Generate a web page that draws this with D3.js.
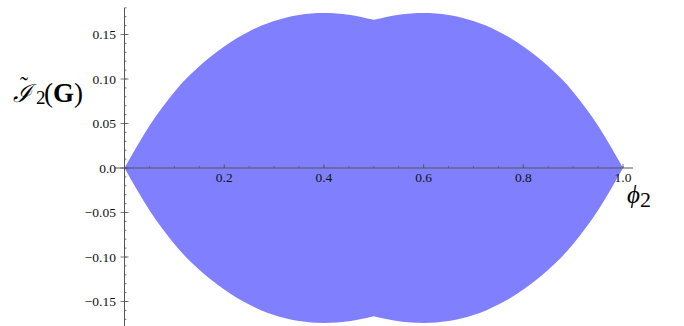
<!DOCTYPE html>
<html>
<head>
<meta charset="utf-8">
<script src="https://cdn.jsdelivr.net/npm/d3@7"></script>
<style>
html,body{margin:0;padding:0;background:#fff;}
svg{display:block;}
</style>
</head>
<body>
<svg id="chart" width="684" height="326"></svg>
<script>
// ---- data ----
const phi = [0,0.025,0.05,0.075,0.1,0.125,0.15,0.175,0.2,0.225,0.25,0.275,0.3,0.325,0.35,0.375,0.4,0.425,0.45,0.475,0.5,
             0.525,0.55,0.575,0.6,0.625,0.65,0.675,0.7,0.725,0.75,0.775,0.8,0.825,0.85,0.875,0.9,0.925,0.95,0.975,1.0];
const upper = [0,0.0245,0.0475,0.0675,0.0855,0.101,0.1142,0.126,0.1365,0.1457,0.1535,0.16,0.1652,0.1692,0.172,0.1736,0.1741,0.1736,0.1722,0.1698,0.1665,
               0.1698,0.1722,0.1736,0.1741,0.1736,0.172,0.1692,0.1652,0.16,0.1535,0.1457,0.1365,0.126,0.1142,0.101,0.0855,0.0675,0.0475,0.0245,0];
const lower = [0,-0.0245,-0.0475,-0.0675,-0.0855,-0.101,-0.1142,-0.126,-0.1365,-0.1457,-0.1535,-0.16,-0.1652,-0.1692,-0.172,-0.1736,-0.1741,-0.1736,-0.1722,-0.1698,-0.1665,
               -0.1698,-0.1722,-0.1736,-0.1741,-0.1736,-0.172,-0.1692,-0.1652,-0.16,-0.1535,-0.1457,-0.1365,-0.126,-0.1142,-0.101,-0.0855,-0.0675,-0.0475,-0.0245,0];
const xMajorTicks = [0.2,0.4,0.6,0.8,1.0];
const xTickLabels = ["0.2","0.4","0.6","0.8","1.0"];
const yMajorTicks = [0.15,0.10,0.05,0.0,-0.05,-0.10,-0.15];
const yTickLabels = ["0.15","0.10","0.05","0.0","\u22120.05","\u22120.10","\u22120.15"];
const xMinorTicks = d3.range(1,21).map(i=>i*0.05);
const yMinorTicks = d3.range(-18,19).map(i=>i*0.01);

// ---- scales ----
const svg = d3.select("#chart");
const x = d3.scaleLinear().domain([0,1.02]).range([124.5,633]);
const y = d3.scaleLinear().domain([-0.18,0.18]).range([328.2,7.8]);

const rows = phi.map((p,i)=>({phi:p, hi:upper[i], lo:lower[i]}));
const area = d3.area().x(d=>x(d.phi)).y0(d=>y(d.lo)).y1(d=>y(d.hi)).curve(d3.curveNatural);
const left = rows.filter(d=>d.phi<=0.5);
const right = rows.filter(d=>d.phi>=0.5);
svg.append("path").attr("d", area(left)+area(right)).attr("fill","#8080ff");

const axisColor = "#555";
svg.append("line").attr("x1",115).attr("x2",x(1.02)).attr("y1",y(0)).attr("y2",y(0))
  .attr("stroke",axisColor).attr("stroke-width",1);
svg.append("line").attr("x1",x(0)).attr("x2",x(0)).attr("y1",y(0.18)).attr("y2",326)
  .attr("stroke",axisColor).attr("stroke-width",1);

svg.selectAll(".xmin").data(xMinorTicks).enter().append("line")
  .attr("x1",d=>x(d)).attr("x2",d=>x(d)).attr("y1",y(0)).attr("y2",y(0)-2)
  .attr("stroke",axisColor).attr("stroke-width",0.8);
svg.selectAll(".xmaj").data(xMajorTicks).enter().append("line")
  .attr("x1",d=>x(d)).attr("x2",d=>x(d)).attr("y1",y(0)).attr("y2",y(0)-4)
  .attr("stroke",axisColor).attr("stroke-width",0.8);
svg.selectAll(".ymin").data(yMinorTicks).enter().append("line")
  .attr("x1",x(0)).attr("x2",x(0)+2).attr("y1",d=>y(d)).attr("y2",d=>y(d))
  .attr("stroke",axisColor).attr("stroke-width",0.8);
svg.selectAll(".ymaj").data(yMajorTicks).enter().append("line")
  .attr("x1",x(0)-4).attr("x2",x(0)+4).attr("y1",d=>y(d)).attr("y2",d=>y(d))
  .attr("stroke",axisColor).attr("stroke-width",0.8);

const tickFont = "'Liberation Serif','Times New Roman',serif";
svg.selectAll(".xlab").data(xMajorTicks).enter().append("text")
  .attr("x",d=>x(d)).attr("y",y(0)+14)
  .attr("text-anchor","middle").attr("font-family",tickFont).attr("font-size",13.5)
  .attr("fill","#111").text((d,i)=>xTickLabels[i]);
svg.selectAll(".ylab").data(yMajorTicks).enter().append("text")
  .attr("x",116).attr("y",d=>y(d)+4.5)
  .attr("text-anchor","end").attr("font-family",tickFont).attr("font-size",13.5)
  .attr("fill","#111").text((d,i)=>yTickLabels[i]);

// axis titles
const xt = svg.append("text").attr("x",627).attr("y",203).attr("font-family",tickFont).attr("font-size",25).attr("fill","#000");
xt.append("tspan").attr("font-style","italic").text("\u03D5");
xt.append("tspan").attr("font-size",22).attr("dy",4).text("2");

const yt = svg.append("text").attr("font-family",tickFont).attr("font-size",27).attr("fill","#000");
yt.append("tspan").attr("x",13).attr("y",102).attr("font-family","'DejaVu Serif',serif").attr("font-style","italic").attr("font-size",25).text("\u2110");
yt.append("tspan").attr("x",20).attr("y",93).attr("font-size",24).text("\u02DC");
yt.append("tspan").attr("x",36).attr("y",104).attr("font-size",19).text("2");
yt.append("tspan").attr("x",44).attr("y",102).text("(");
yt.append("tspan").attr("font-weight","bold").text("G");
yt.append("tspan").text(")");
</script>
</body>
</html>
